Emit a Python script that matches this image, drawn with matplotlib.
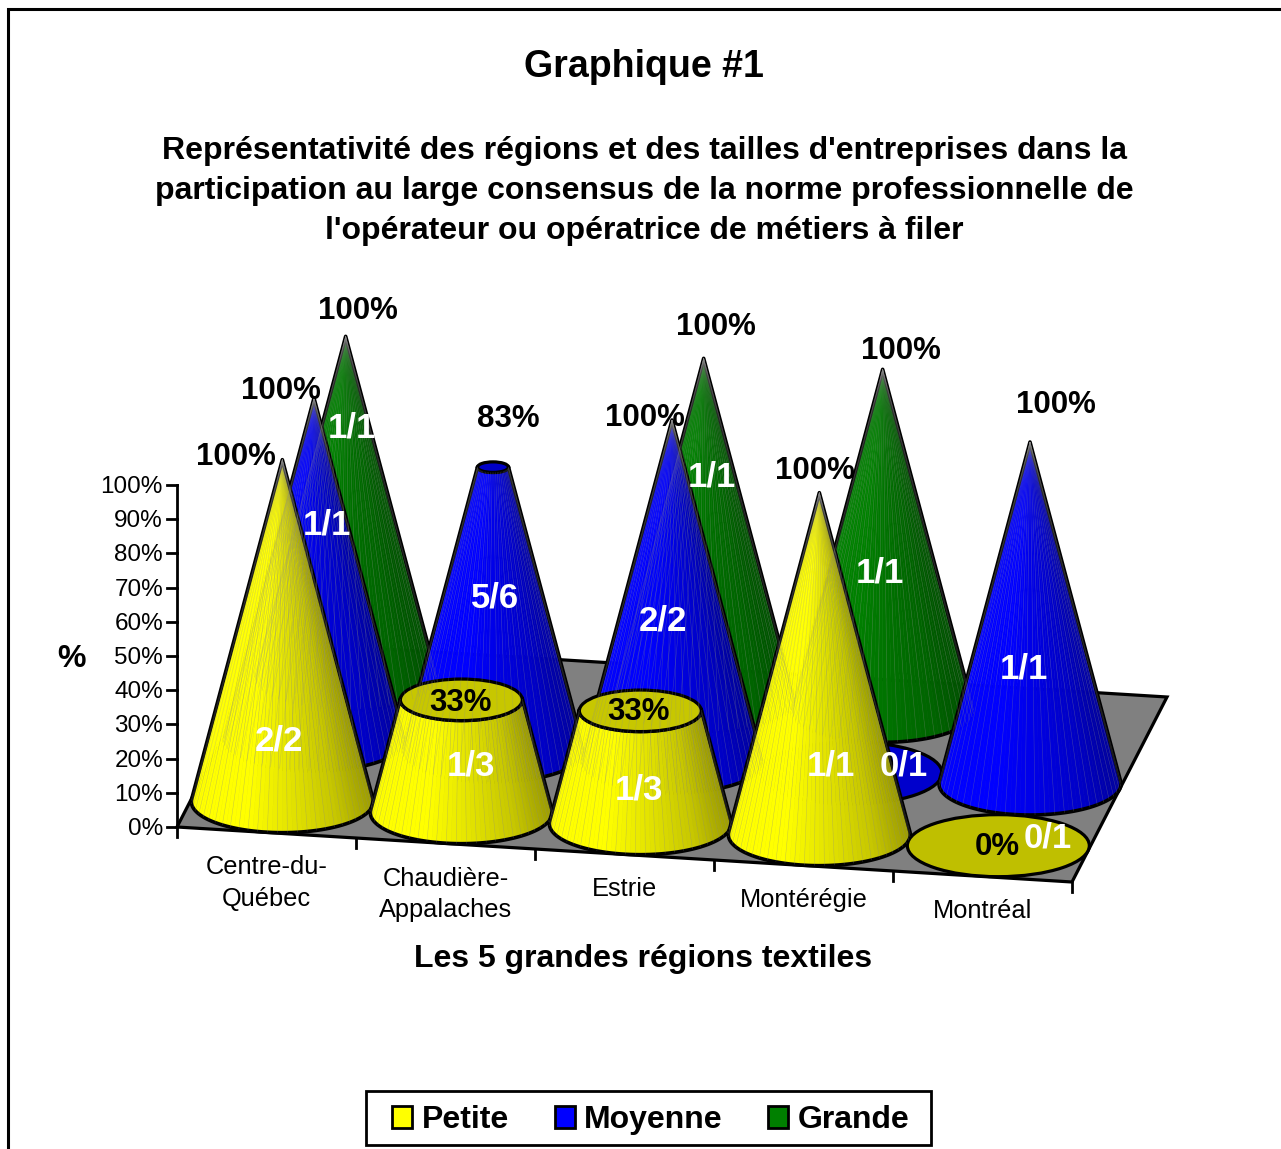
import numpy as np
import matplotlib
matplotlib.use("Agg")
import matplotlib.pyplot as plt
from matplotlib.collections import PolyCollection, LineCollection
from matplotlib.patches import Ellipse, Patch, Polygon, Rectangle

plt.rcParams["font.family"] = ["Liberation Sans", "DejaVu Sans"]

# data
regions = ["Centre-du-\nQuébec", "Chaudière-\nAppalaches", "Estrie", "Montérégie", "Montréal"]
series_names = ["Petite", "Moyenne", "Grande"]
petite = [100, 33, 33, 100, 0]
moyenne = [100, 83, 100, 0, 100]
grande = [100, None, 100, 100, None]
petite_frac = ["2/2", "1/3", "1/3", "1/1", "0/1"]
moyenne_frac = ["1/1", "5/6", "2/2", "0/1", "1/1"]
grande_frac = ["1/1", None, "1/1", "1/1", None]
y_ticks = list(range(0, 101, 10))

# where the labels sit, in pixels (same order as the data)
petite_pct_pos = [(236, 457), (461, 703), (639, 712), (815, 471), (997, 847)]
moyenne_pct_pos = [(281, 391), (508, 419), (645, 418), None, (1056, 405)]
grande_pct_pos = [(358, 311), None, (716, 327), (901, 351), None]
petite_frac_pos = [(279, 741), (471, 766), (639, 790), (831, 766), (1048, 838)]
moyenne_frac_pos = [(327, 525), (495, 598), (663, 621), (904, 766), (1024, 669)]
grande_frac_pos = [(352, 428), None, (712, 477), (880, 573), None]

# projection of the 3D chart
ORIGIN = (177, 827)
CAT_STEP = (179, 11)
DEPTH_VEC = (95, -185)
FULL_H = 342
RX, RY = 91, 31
BOLD = dict(fontweight="bold", ha="center", va="center")


def project(cat, depth, value=0):
    x = ORIGIN[0] + CAT_STEP[0] * cat + DEPTH_VEC[0] * depth
    y = ORIGIN[1] + CAT_STEP[1] * cat + DEPTH_VEC[1] * depth - FULL_H * value / 100
    return x, y


def shaded(color, t):
    k = np.interp(t, [0, 0.3, 0.55, 0.8, 1], [1, 1, 0.89, 0.78, 0.62])
    return tuple(c * k for c in color)


def draw_cone(ax, cat, depth, value, color):
    cx, cy = project(cat + 0.5, depth)
    if value == 0:
        cap = 0.75 if color[0] > 0 else 0.8
        ax.add_patch(Ellipse((cx, cy), 2 * RX, 2 * RY, fc=[c * cap for c in color], ec="black", lw=2.3))
        return
    top_y = cy - FULL_H * value / 100
    r = 1 - value / 100
    t0 = np.arcsin(RY / FULL_H)
    th = np.linspace(-t0, np.pi + t0, 61)
    bx = cx + RX * np.cos(th)
    by = cy + RY * np.sin(th)
    tx = cx + r * RX * np.cos(th)
    ty = top_y + r * RY * np.sin(th)
    facets, cols = [], []
    for i in range(60):
        facets.append([(bx[i], by[i]), (bx[i + 1], by[i + 1]), (tx[i + 1], ty[i + 1]), (tx[i], ty[i])])
        cols.append(shaded(color, (np.cos((th[i] + th[i + 1]) / 2) + 1) / 2))
    ax.add_collection(PolyCollection(facets, facecolors=cols, edgecolors=cols, linewidths=0.4))
    seams = [[(bx[i], by[i]), (tx[i], ty[i])] for i in range(1, 60, 2)]
    ax.add_collection(LineCollection(seams, colors=[(0.55, 0.55, 0.55, 0.35)], linewidths=0.4))
    outline = list(zip(bx, by)) + list(zip(tx[::-1], ty[::-1]))
    ax.add_patch(Polygon(outline, closed=True, fc="none", ec="black", lw=2.6, joinstyle="round"))
    if r > 0:
        ax.add_patch(Ellipse((cx, top_y), 2 * r * RX, 2 * r * RY, fc=[c * 0.78 for c in color], ec="black", lw=2.3))


fig = plt.figure(figsize=(12.81, 11.49), dpi=100)
ax = fig.add_axes([0, 0, 1, 1])
ax.set_xlim(0, 1281)
ax.set_ylim(1149, 0)
ax.axis("off")

# outer frame, only left and top show
ax.plot([8, 8, 1281], [1149, 9, 9], color="black", lw=2.2, solid_joinstyle="miter")

ax.text(644, 67, "Graphique #1", fontsize=27, **BOLD)
ax.text(644, 151, "Représentativité des régions et des tailles d'entreprises dans la", fontsize=23, **BOLD)
ax.text(644, 191, "participation au large consensus de la norme professionnelle de", fontsize=23, **BOLD)
ax.text(644, 231, "l'opérateur ou opératrice de métiers à filer", fontsize=23, **BOLD)

# floor
corners = [project(0, 0), project(5, 0), project(5, 1), project(0, 1)]
ax.add_patch(Polygon(corners, closed=True, fc="#808080", ec="black", lw=2.3))

# y axis
ax.plot(*zip(project(0, 0, 0), project(0, 0, 100)), color="black", lw=2)
for v in y_ticks:
    x, y = project(0, 0, v)
    ax.plot([x - 10, x], [y, y], color="black", lw=2)
    ax.text(x - 14, y + 2, f"{v}%", fontsize=17.5, ha="right", va="center")
ax.text(71, 659, "%", fontsize=23, **BOLD)

# x axis
for i in range(len(regions) + 1):
    x, y = project(i, 0)
    ax.plot([x, x], [y, y + 10], color="black", lw=2)
for i, name in enumerate(regions):
    x, y = project(i + 0.5, 0)
    ax.text(x, y + 23, name, fontsize=18.3, ha="center", va="top", linespacing=1.42)
ax.text(643, 959, "Les 5 grandes régions textiles", fontsize=23, **BOLD)

# cones, back row first
rows = [
    (grande, grande_frac, grande_pct_pos, grande_frac_pos, 5 / 6, (0, 0.5, 0)),
    (moyenne, moyenne_frac, moyenne_pct_pos, moyenne_frac_pos, 1 / 2, (0, 0, 1)),
    (petite, petite_frac, petite_pct_pos, petite_frac_pos, 1 / 6, (1, 1, 0)),
]
for values, _, _, _, depth, color in rows:
    for i, v in enumerate(values):
        if v is not None:
            draw_cone(ax, i, depth, v, color)

for values, fracs, pct_pos, frac_pos, _, _ in rows:
    for i, v in enumerate(values):
        if v is None:
            continue
        if pct_pos[i] is not None:
            ax.text(*pct_pos[i], f"{v}%", fontsize=22.5, zorder=10, **BOLD)
        ax.text(*frac_pos[i], fracs[i], fontsize=25, color="white", zorder=11, **BOLD)

# legend, frame drawn apart so the padding can match
ax.add_patch(Rectangle((366, 1091), 565, 54, fc="white", ec="black", lw=2, zorder=12))
handles = [Patch(fc=c, ec="black", lw=2) for c in ["#ffff00", "#0000ff", "#008000"]]
leg = ax.legend(handles, series_names, loc="center", bbox_to_anchor=(651, 1120), bbox_transform=ax.transData,
                ncols=3, frameon=False, handlelength=0.63, handleheight=0.7, handletextpad=0.3,
                columnspacing=1.42, prop={"weight": "bold", "size": 23})
leg.set_zorder(13)

fig.savefig("out.png", dpi=100)
